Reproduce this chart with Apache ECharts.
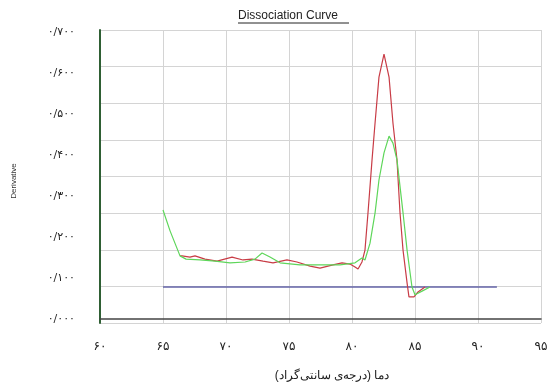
<!DOCTYPE html>
<html>
<head>
<meta charset="utf-8">
<script src="https://cdn.jsdelivr.net/npm/echarts@6/dist/echarts.min.js"></script>
<style>
  html, body { margin: 0; padding: 0; background: #fff; }
  #chart { width: 551px; height: 383px; }
</style>
</head>
<body>
<div id="chart"></div>
<script>
// temperatures (°C) and derivative values
const redTemp = [66.35, 66.51, 67.14, 67.54, 68.33, 69.29, 70.48, 71.35, 72.06, 72.94, 73.73, 74.84, 75.63, 76.67, 77.46, 78.49, 79.21, 79.84, 80.24, 80.48, 80.79, 81.03, 81.27, 81.59, 81.83, 82.14, 82.54, 82.94, 83.25, 83.57, 83.81, 84.05, 84.37, 84.52, 84.92, 85.24, 85.79];
const redVal = [0.154, 0.154, 0.151, 0.154, 0.146, 0.141, 0.151, 0.144, 0.146, 0.141, 0.137, 0.144, 0.139, 0.129, 0.124, 0.132, 0.137, 0.134, 0.127, 0.122, 0.139, 0.168, 0.259, 0.388, 0.478, 0.590, 0.646, 0.590, 0.478, 0.388, 0.259, 0.168, 0.088, 0.054, 0.054, 0.066, 0.078];

const greenTemp = [65.0, 65.56, 66.35, 66.83, 67.94, 69.13, 70.32, 71.51, 72.30, 72.86, 73.49, 74.29, 75.87, 77.46, 79.05, 80.24, 80.79, 81.03, 81.43, 81.83, 82.14, 82.54, 82.94, 83.25, 83.57, 84.05, 84.37, 84.76, 85.0, 85.56, 86.19];
const greenVal = [0.266, 0.215, 0.154, 0.146, 0.144, 0.141, 0.137, 0.139, 0.146, 0.161, 0.151, 0.137, 0.132, 0.132, 0.132, 0.137, 0.149, 0.144, 0.185, 0.259, 0.339, 0.405, 0.446, 0.429, 0.388, 0.259, 0.168, 0.078, 0.059, 0.068, 0.078];

const blueTemp = [65, 70, 75, 80, 85, 91.5];
const blueVal = [0.078, 0.078, 0.078, 0.078, 0.078, 0.078];

const xTicks = [60, 65, 70, 75, 80, 85, 90, 95];
const yTicks = [0, 0.1, 0.2, 0.3, 0.4, 0.5, 0.6, 0.7];

const faDigits = '۰۱۲۳۴۵۶۷۸۹';
function toFa(s) {
  return String(s).replace(/[0-9]/g, d => faDigits[d]).replace('.', '/');
}
function pairs(t, v) {
  return t.map((x, i) => [x, v[i]]);
}

const chart = echarts.init(document.getElementById('chart'));

chart.setOption({
  animation: false,
  textStyle: { fontFamily: 'DejaVu Sans, Liberation Sans, sans-serif' },
  grid: { left: 100, right: 10, top: 30, bottom: 60 },
  graphic: [
    {
      type: 'text', left: 238, top: 10,
      style: { text: 'Dissociation Curve', fontSize: 12, fontFamily: 'Liberation Sans, Arial', fill: '#222' }
    },
    {
      type: 'line', shape: { x1: 238, y1: 23, x2: 349, y2: 23 },
      style: { stroke: '#222', lineWidth: 1 }
    },
    {
      type: 'text', x: 14, y: 181, rotation: Math.PI / 2,
      style: { text: 'Derivative', fontSize: 8, fontFamily: 'Liberation Sans, Arial', fill: '#333', align: 'center', verticalAlign: 'middle' }
    },
    {
      type: 'text', x: 332, y: 376,
      style: { text: 'دما (درجه‌ی سانتی‌گراد)', fontSize: 12, fill: '#222', align: 'center', verticalAlign: 'middle' }
    }
  ],
  xAxis: {
    type: 'value', min: 60, max: 95, interval: 5,
    axisLine: { lineStyle: { color: '#444', width: 1.5 } },
    axisTick: { show: false },
    splitLine: { lineStyle: { color: '#d4d4d4' } },
    axisLabel: {
      margin: 18, fontSize: 12, color: '#222',
      customValues: xTicks,
      formatter: v => toFa(v)
    }
  },
  yAxis: [
    {
      type: 'value', min: -0.00976, max: 0.70488,
      axisLine: { show: true, lineStyle: { color: '#2f5f34', width: 2 } },
      axisTick: { show: false },
      splitLine: { show: false },
      axisLabel: {
        margin: 25, fontSize: 11, color: '#222',
        customValues: yTicks,
        formatter: v => toFa(v.toFixed(3))
      }
    },
    {
      type: 'value', min: 0, max: 8, interval: 1, position: 'left',
      axisLine: { show: false },
      axisTick: { show: false },
      axisLabel: { show: false },
      splitLine: { lineStyle: { color: '#d4d4d4' } }
    }
  ],
  series: [
    {
      name: 'blue', type: 'line', yAxisIndex: 0, symbol: 'none',
      data: pairs(blueTemp, blueVal),
      lineStyle: { color: '#6464a8', width: 1.5 }
    },
    {
      name: 'red', type: 'line', yAxisIndex: 0, symbol: 'none',
      data: pairs(redTemp, redVal),
      lineStyle: { color: '#c83c46', width: 1.2 }
    },
    {
      name: 'green', type: 'line', yAxisIndex: 0, symbol: 'none',
      data: pairs(greenTemp, greenVal),
      lineStyle: { color: '#5ed65a', width: 1.2 }
    }
  ]
});
</script>
</body>
</html>
